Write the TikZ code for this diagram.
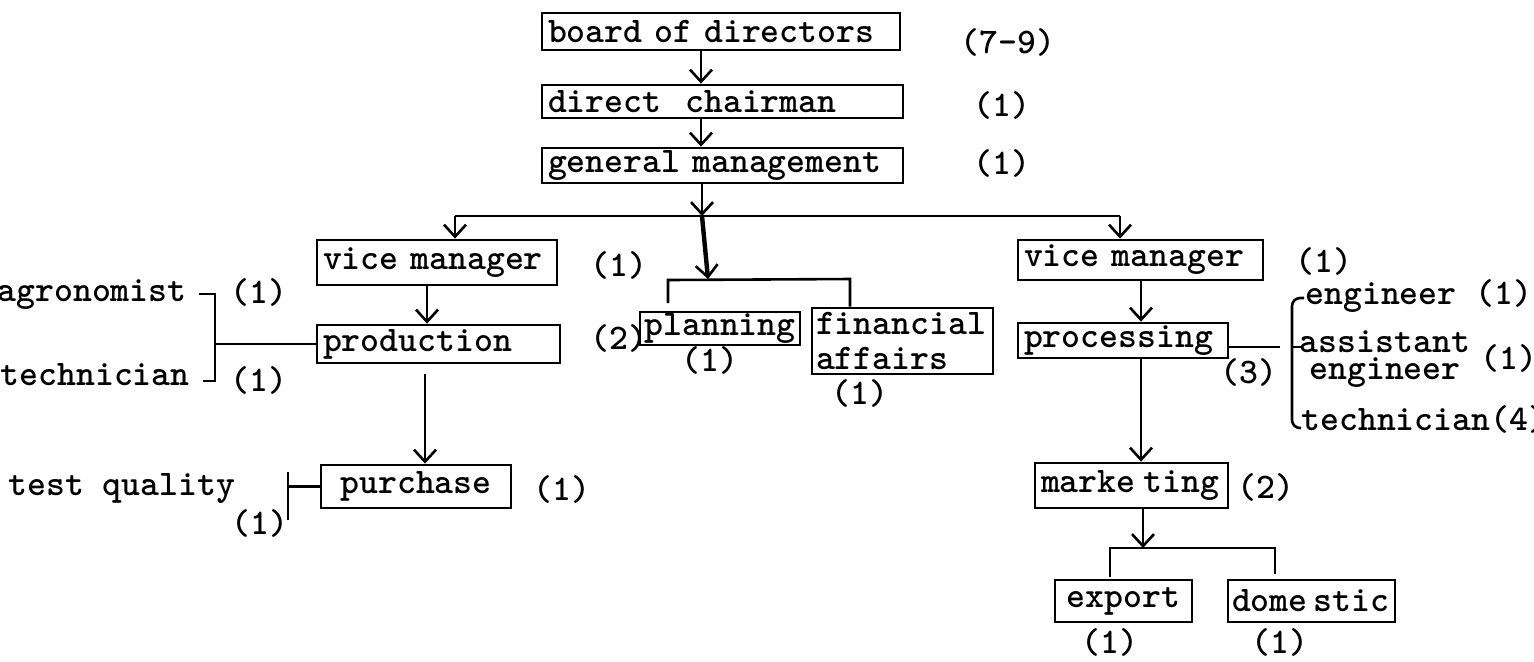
\documentclass[tikz,border=0pt]{standalone}
\usetikzlibrary{arrows.meta}
\newcommand\chartfont{\ttfamily\fontseries{b}\fontsize{18}{20}\selectfont}
\begin{document}
\begin{tikzpicture}[x=0.5pt,y=-0.5pt,
  box/.style={draw, line width=1.4pt, inner xsep=3pt, inner ysep=0pt, align=left, font=\chartfont},
  lbl/.style={inner sep=0pt, font=\chartfont},
  link/.style={line width=1.3pt},
  arr/.style={link, -{Straight Barb[length=6pt,width=11pt,line width=1.3pt]}},
]
\fill[white] (0,0) rectangle (1534,661);
\useasboundingbox (0,0) rectangle (1534,661);

% ---- boxes ----
\node[box, text width=173pt, minimum height=18.5pt] (board) at (721,31.5) {board of directors};
\node[box, text width=174.5pt, minimum height=16.5pt] (chair) at (722.5,101.5) {direct\ \ chairman};
\node[box, text width=174.5pt, minimum height=17.5pt] (gen) at (722.5,165.5) {general management};
\node[box, text width=114pt, minimum height=22.5pt] (vmL) at (437,262.5) {vice manager};
\node[box, text width=115.5pt, minimum height=19pt] (prod) at (438.5,344) {production};
\node[box, text width=89pt, align=center, minimum height=21.5pt] (purch) at (416,486.5) {purchase};
\node[box, inner xsep=2pt, text width=76pt, align=center, minimum height=16.5pt] (plan) at (720,328.5) {planning};
\node[box, inner xsep=2pt, text width=86.5pt, minimum height=33pt,
      font=\ttfamily\fontseries{b}\fontsize{18}{17.5}\selectfont] (fin) at (902.5,341) {financial\\affairs};
\node[box, text width=116.5pt, minimum height=20pt] (vmR) at (1140.5,260) {vice manager};
\node[box, text width=99pt, minimum height=17.5pt] (proc) at (1123,340.5) {processing};
\node[box, text width=90.5pt, minimum height=22.5pt] (mkt) at (1131.5,485.5) {marke\kern4pt ting};
\node[box, text width=62.5pt, align=center, minimum height=21pt] (exp) at (1123.5,601) {export};
\node[box, inner xsep=2pt, text width=79.5pt, minimum height=21pt] (dom) at (1311.5,601) {dome\kern3pt stic};

% ---- head counts and side texts ----
\node[lbl, anchor=west] (nboard) at (960,42) {(7-9)};
\node[lbl, anchor=west] (nchair) at (973,105) {(1)};
\node[lbl, anchor=west] (ngen) at (973,163) {(1)};
\node[lbl, anchor=west] (nvmL) at (590,265) {(1)};
\node[lbl, anchor=west] (nprod) at (590,338) {(2)};
\node[lbl] (nplan) at (710,360) {(1)};
\node[lbl] (nfin) at (860,393) {(1)};
\node[lbl, anchor=west] (nvmR) at (1295,261) {(1)};
\node[lbl, anchor=west] (nproc) at (1220,372) {(3)};
\node[lbl, anchor=west] (nmkt) at (1237,487) {(2)};
\node[lbl] (nexp) at (1110,642) {(1)};
\node[lbl] (ndom) at (1280,642) {(1)};
\node[lbl, anchor=west] (npurch) at (533,489) {(1)};
\node[lbl, anchor=base west] (test) at (8,495) {test quality};
\node[lbl, anchor=west] (ntest) at (231,523) {(1)};
\node[lbl, anchor=base east] (agro) at (187,301) {agronomist};
\node[lbl, anchor=west] (nagro) at (230,292) {(1)};
\node[lbl, anchor=base east] (techL) at (190,385) {technician};
\node[lbl, anchor=west] (ntechL) at (230,380) {(1)};
\node[lbl, anchor=base west] (eng) at (1305,304) {engineer (1)};
\node[lbl, align=center, font=\ttfamily\fontseries{b}\fontsize{18}{13.5}\selectfont] (asst) at (1385,359.5) {assistant\\engineer};
\node[lbl, anchor=west] (nasst) at (1480,358) {(1)};
\node[lbl, anchor=base west] (techR) at (1301,430) {technician(4)};

% ---- main line of command ----
\coordinate (ax) at (701,0);
\draw[arr] (board.south -| ax) -- (chair.north -| ax);
\draw[arr] (chair.south -| ax) -- (gen.north -| ax);
\coordinate (busL) at (455,216);
\coordinate (busM) at (702,216);
\coordinate (busR) at (1120,216);
\draw[arr] (gen.south -| busM) -- (busM);
\draw[link] (busL) -- (busR);
\draw[arr] (busL) -- (vmL.north -| busL);
\draw[arr] (busR) -- (vmR.north -| busR);

% staff branch: planning / financial affairs
\coordinate (pf) at (708,279);
\coordinate (pfL) at (668,280);
\coordinate (pfR) at (850,279);
\coordinate (pfLe) at (668,303);
\draw[arr, line width=2.2pt] (busM) -- (pf);
\draw[link] (pfLe) -- (pfL) -- (pfR) -- (fin.north -| pfR);

% production side
\coordinate (lx) at (427,0);
\draw[arr] (vmL.south -| lx) -- (prod.north -| lx);
\coordinate (lx2) at (425,0);
\path (prod.south -| lx2) ++(0,10) coordinate (pd);
\draw[arr] (pd) -- (purch.north -| lx2);
\coordinate (lb) at (215,0);
\coordinate (lbT) at (215,294);
\coordinate (lbTe) at (199,294);
\coordinate (lbB) at (215,381);
\coordinate (lbBe) at (203,381);
\draw[link] (lbTe) -- (lbT) -- (lbB) -- (lbBe);
\draw[link] (prod.west) -- (prod.west -| lb);
\coordinate (tqT) at (288,472);
\coordinate (tqB) at (288,520);
\draw[link] (tqT) -- (tqB);
\draw[link] (purch.west) -- (purch.west -| tqT);

% processing side
\coordinate (rx) at (1141,0);
\draw[arr] (vmR.south -| rx) -- (proc.north -| rx);
\draw[arr] (proc.south -| rx) -- (mkt.north -| rx);
\coordinate (pl) at (1280,347);
\draw[link] (proc.east |- pl) -- (pl);
\coordinate (rbT) at (1304,298);
\coordinate (rbTL) at (1292,298);
\coordinate (rbBL) at (1292,428);
\coordinate (rbB) at (1301,428);
\coordinate (rbM) at (1292,347);
\coordinate (rbMe) at (1302,347);
\draw[link, rounded corners=4pt] (rbT) -- (rbTL) -- (rbBL) -- (rbB);
\draw[link] (rbM) -- (rbMe);

% marketing split
\coordinate (mb) at (1143,548);
\coordinate (mbL) at (1110,548);
\coordinate (mbR) at (1275,548);
\coordinate (mbLe) at (1110,577);
\coordinate (mbRe) at (1275,574);
\draw[arr] (mkt.south -| mb) -- (mb);
\draw[link] (mbLe) -- (mbL) -- (mbR) -- (mbRe);
\end{tikzpicture}
\end{document}
